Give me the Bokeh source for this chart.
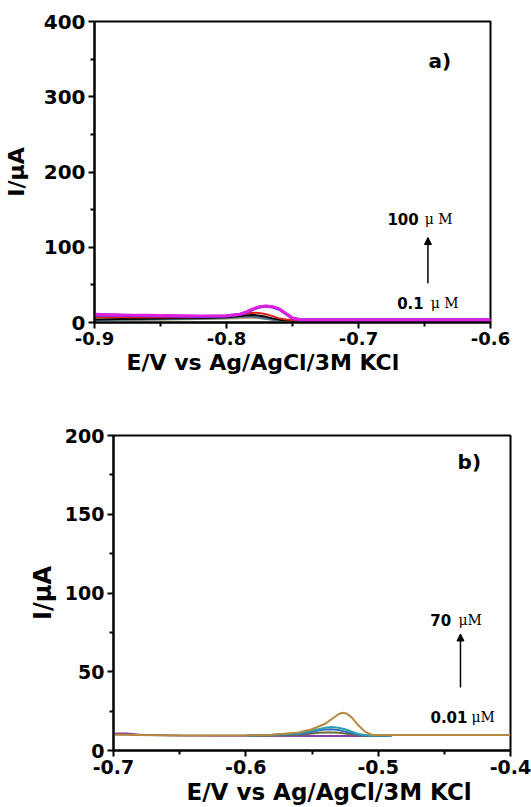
from bokeh.plotting import figure
from bokeh.models import Range1d, FixedTicker, Arrow, NormalHead, Title
from bokeh.core.properties import value
from bokeh.embed import file_html
from bokeh.resources import INLINE

# ---------------- Panel a data ----------------
xa = [-0.90, -0.88, -0.86, -0.84, -0.82, -0.80, -0.79, -0.785, -0.78, -0.775,
      -0.77, -0.765, -0.76, -0.755, -0.75, -0.745, -0.74, -0.72, -0.70, -0.65, -0.60]
a_magenta = [11, 10, 9.5, 9, 8.5, 9, 11, 14, 18, 21, 22, 21, 18, 12, 6, 4, 3.5, 3.5, 3.5, 3.5, 3.5]
a_blue    = [10, 9.5, 9, 8.5, 8, 8.5, 10.5, 13.5, 17.5, 20.5, 21.5, 20.5, 17.5, 11.5, 5.5, 4, 3.5, 3.5, 3.5, 3.5, 3.5]
a_red     = [7, 7, 7, 7, 7, 8, 10, 12, 13, 12.5, 11, 8.5, 5.5, 4, 3.2, 3, 3, 3, 3, 3, 3]
a_black   = [4, 4.5, 5, 5.5, 6, 7, 8.5, 9.5, 10, 9, 7.5, 5.5, 3.8, 3, 2.8, 2.8, 2.8, 2.8, 2.8, 2.8, 2.8]
a_steel   = [3, 3.5, 4, 4.5, 5, 6, 7, 7.5, 7.5, 6.5, 5, 3.5, 2.8, 2.5, 2.5, 2.5, 2.5, 2.5, 2.5, 2.5, 2.5]
a_olive   = [2.5, 3, 3.5, 4, 4.5, 5, 5.5, 6, 6, 5.5, 4.5, 3.5, 2.8, 2.5, 2.5, 2.5, 2.5, 2.5, 2.5, 2.5, 2.5]
a_series = [
    (a_olive, "#b9b070", 2),
    (a_steel, "#4f6f95", 2),
    (a_black, "#000000", 2),
    (a_red, "#e0201c", 2),
    (a_blue, "#2f2fe0", 3),
    (a_magenta, "#e020e0", 3),
]
a_xticks = [-0.9, -0.8, -0.7, -0.6]
a_xlabels = ["-0.9", "-0.8", "-0.7", "-0.6"]
a_yticks = [0, 100, 200, 300, 400]

# ---------------- Panel b data ----------------
xb = [-0.70, -0.65, -0.60, -0.58, -0.56, -0.55, -0.54, -0.535, -0.53, -0.527,
      -0.524, -0.52, -0.515, -0.51, -0.505, -0.50, -0.45, -0.40]
b_brown = [10, 9.6, 9.5, 10, 11.5, 13.5, 17, 20, 23, 24, 23.5, 21, 16, 12, 10, 9.8, 9.8, 9.8]
xb2 = [-0.60, -0.58, -0.56, -0.55, -0.545, -0.54, -0.535, -0.53, -0.525, -0.52, -0.515, -0.51, -0.505, -0.50, -0.49]
b_teal  = [9.5, 10, 11, 12.5, 13.5, 14.5, 15, 14.5, 13.5, 12, 10.5, 9.8, 9.5, 9.5, 9.5]
b_blue  = [9.3, 9.8, 10.5, 11.8, 12.8, 13.3, 13.5, 13, 12, 11, 10, 9.5, 9.3, 9.3, 9.3]
b_olive = [9.2, 9.5, 10, 10.8, 11.2, 11.5, 11.5, 11.2, 10.8, 10.2, 9.6, 9.3, 9.2, 9.2, 9.2]
xb3 = [-0.70, -0.69, -0.68, -0.65, -0.62, -0.60, -0.55, -0.50]
b_purple = [10.8, 10.8, 10, 9.6, 9.4, 9.3, 9.2, 9.2]
b_xticks = [-0.7, -0.6, -0.5, -0.4]
b_xlabels = ["-0.7", "-0.6", "-0.5", "-0.4"]
b_yticks = [0, 50, 100, 150, 200]

XTITLE = "E/V vs Ag/AgCl/3M KCl"
YTITLE = "I/\u03bcA"

FONT = "DejaVu Sans"
SERIF = "DejaVu Serif"


def style(p, xticks, xlabels, yticks, xminor, yminor, xtick_fs, ytick_fs, label_fs, ylab_standoff):
    p.xaxis.ticker = FixedTicker(ticks=xticks, minor_ticks=xminor)
    p.yaxis.ticker = FixedTicker(ticks=yticks, minor_ticks=yminor)
    p.xaxis.major_label_overrides = {t: s for t, s in zip(xticks, xlabels)}
    for ax in (p.xaxis[0], p.yaxis[0]):
        ax.axis_line_width = 2
        ax.axis_line_color = "black"
        ax.major_tick_line_width = 2
        ax.minor_tick_line_width = 2
        ax.major_tick_out = 6
        ax.major_tick_in = 0
        ax.minor_tick_out = 4
        ax.minor_tick_in = 0
        ax.major_label_standoff = 3
        ax.major_label_text_font = FONT
        ax.major_label_text_font_style = "bold"
        ax.major_label_text_color = "black"
        ax.axis_label_text_font = FONT
        ax.axis_label_text_font_style = "bold"
        ax.axis_label_text_color = "black"
        ax.axis_label_text_font_size = label_fs
    p.xaxis[0].major_label_text_font_size = xtick_fs
    p.yaxis[0].major_label_text_font_size = ytick_fs
    p.yaxis[0].axis_label = YTITLE
    p.yaxis[0].axis_label_standoff = ylab_standoff
    p.xgrid.visible = False
    p.ygrid.visible = False
    p.outline_line_color = "black"
    p.outline_line_width = 2
    p.outline_line_alpha = 1.0


def xtitle(p, offset, fs):
    p.add_layout(Title(text=XTITLE, align="left", offset=offset, standoff=0,
                       text_font=FONT, text_font_style="bold", text_font_size=fs,
                       text_color="black"), "below")


def conc_label(p, x_num_right, x_unit_left, y, num, unit):
    p.text(x=[x_num_right], y=[y], text=[num], text_font=value(FONT), text_font_style="bold",
           text_font_size="15px", text_baseline="middle", text_align="right")
    p.text(x=[x_unit_left], y=[y], text=[unit], text_font=value(SERIF),
           text_font_size="14px", text_baseline="middle", text_align="left")


# ---------------- Figure a ----------------
pa = figure(width=531, height=379, output_backend="svg", toolbar_location=None,
            x_range=Range1d(-0.9, -0.6), y_range=Range1d(0, 400),
            min_border_left=93, min_border_right=41, min_border_top=21, min_border_bottom=57)
style(pa, a_xticks, a_xlabels, a_yticks, [-0.85, -0.75, -0.65], [50, 150, 250, 350],
      "18px", "20px", "22px", 12)
for ys, col, w in a_series:
    pa.line(xa, ys, line_color=col, line_width=w)
xtitle(pa, 32, "22px")
pa.text(x=[-0.647], y=[348], text=["a)"], text_font=value(FONT), text_font_style="bold",
        text_font_size="20px", text_baseline="middle", text_align="left")
conc_label(pa, -0.6544, -0.6499, 138, "100", "\u03bc M")
conc_label(pa, -0.6506, -0.6453, 26, "0.1", "\u03bc M")
pa.add_layout(Arrow(x_start=-0.6474, y_start=52, x_end=-0.6474, y_end=113,
                    line_width=1.5, line_color="black",
                    end=NormalHead(size=7, fill_color="black", line_color="black")))

# ---------------- Figure b ----------------
pb = figure(width=531, height=428, output_backend="svg", toolbar_location=None,
            x_range=Range1d(-0.7, -0.4), y_range=Range1d(0, 200),
            min_border_left=113, min_border_right=21, min_border_top=56, min_border_bottom=57)
style(pb, b_xticks, b_xlabels, b_yticks, [-0.65, -0.55, -0.45], [25, 75, 125, 175],
      "19px", "19px", "24px", 5)
pb.line(xb3, b_purple, line_color="#8a3fa0", line_width=2)
pb.line(xb2, b_olive, line_color="#6b6a3a", line_width=2)
pb.line(xb2, b_blue, line_color="#3a6fb5", line_width=2)
pb.line(xb2, b_teal, line_color="#2a9fb8", line_width=2)
pb.line(xb, b_brown, line_color="#b58a3e", line_width=2)
xtitle(pb, 73, "23px")
pb.text(x=[-0.440], y=[183], text=["b)"], text_font=value(FONT), text_font_style="bold",
        text_font_size="20px", text_baseline="middle", text_align="left")
conc_label(pb, -0.4448, -0.4393, 83, "70", "\u03bcM")
conc_label(pb, -0.4325, -0.4295, 21.5, "0.01", "\u03bcM")
pb.add_layout(Arrow(x_start=-0.4378, y_start=40, x_end=-0.4378, y_end=74,
                    line_width=1.5, line_color="black",
                    end=NormalHead(size=7, fill_color="black", line_color="black")))

open("out.html", "w").write(file_html([pa, pb], INLINE))
